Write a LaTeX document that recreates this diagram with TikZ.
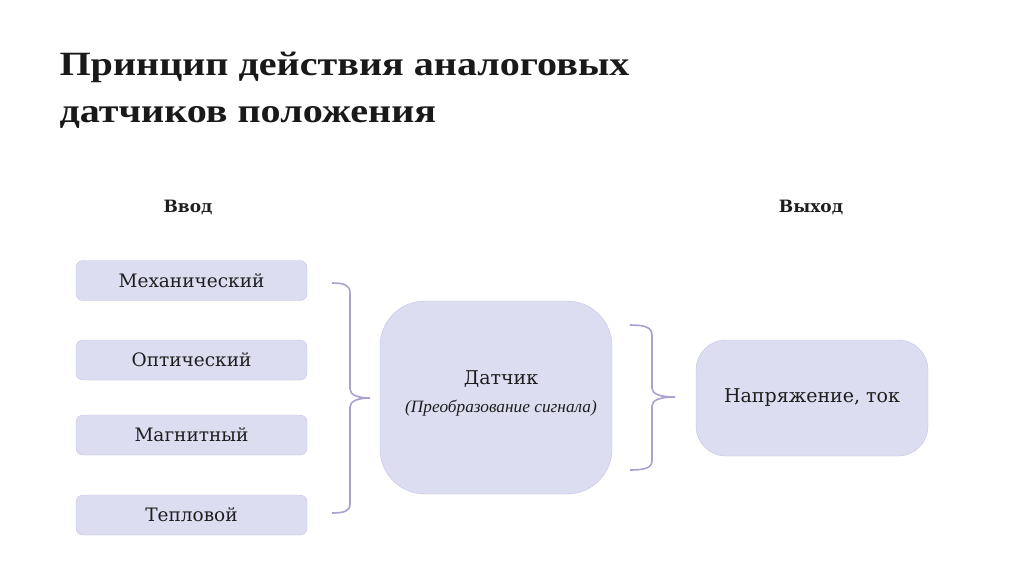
\documentclass[tikz,border=0pt]{standalone}
\usepackage{fontspec}
\setmainfont{DejaVu Serif}
\newfontfamily\titlefont[FakeStretch=1.18]{Liberation Serif}
\newfontfamily\notefont{Liberation Serif}
\definecolor{boxfill}{RGB}{221,221,241}
\definecolor{boxline}{RGB}{196,194,228}
\definecolor{braceline}{RGB}{172,160,208}
\definecolor{inktext}{RGB}{30,30,30}
\tikzset{
  inbox/.style={draw=boxline, fill=boxfill, rounded corners=7pt, minimum width=231pt, minimum height=40pt, inner sep=0pt, font=\fontsize{18.5}{22}\selectfont, text=inktext},
  bigbox/.style={draw=boxline, fill=boxfill, minimum width=232pt, inner sep=0pt},
  bracket/.style={draw=braceline, line width=1.6pt},
}
\begin{document}
\begin{tikzpicture}[x=1pt,y=-1pt]
  \useasboundingbox (0,0) rectangle (1024,574);
  % title
  \node[anchor=base west, align=left, text=black!90, font=\titlefont\bfseries\fontsize{34}{47}\selectfont] (title) at (56,122) {Принцип действия аналоговых\\датчиков положения};
  % column heads
  \node[font=\bfseries\fontsize{17}{20}\selectfont, text=inktext] (inhead) at (188,207) {Ввод};
  \node[font=\bfseries\fontsize{17}{20}\selectfont, text=inktext] (outhead) at (811,207) {Выход};
  % inputs
  \node[inbox] (mech) at (191.5,280.5) {Механический};
  \node[inbox] (opt) at (191.5,360) {Оптический};
  \node[inbox] (magn) at (191.5,435) {Магнитный};
  \node[inbox] (heat) at (191.5,515) {Тепловой};
  % sensor
  \node[bigbox, minimum height=193pt, rounded corners=45pt] (sensor) at (496,397.5) {};
  \node[font=\fontsize{19}{22}\selectfont, text=inktext] (sensorname) at (501,379) {Датчик};
  \node[font=\notefont\itshape\fontsize{17.3}{20}\selectfont, text=inktext] (sensornote) at (501,408) {(Преобразование сигнала)};
  % output
  \node[bigbox, minimum height=116pt, rounded corners=30pt, font=\fontsize{19}{22}\selectfont, text=inktext] (volt) at (812,398) {Напряжение, ток};
  % braces
  \draw[bracket] (332,283) .. controls (344,283) and (350,285) .. (350,293) -- (350,389)
    .. controls (350,395) and (358,398) .. (370,398) .. controls (358,398) and (350,401) .. (350,407)
    -- (350,504) .. controls (350,511) and (344,513) .. (332,513);
  \draw[bracket] (630,325) .. controls (644,325) and (652,327) .. (652,335) -- (652,388)
    .. controls (652,394) and (660,397) .. (675,397) .. controls (660,397) and (652,400) .. (652,406)
    -- (652,461) .. controls (652,468) and (644,470) .. (630,470);
\end{tikzpicture}
\end{document}
